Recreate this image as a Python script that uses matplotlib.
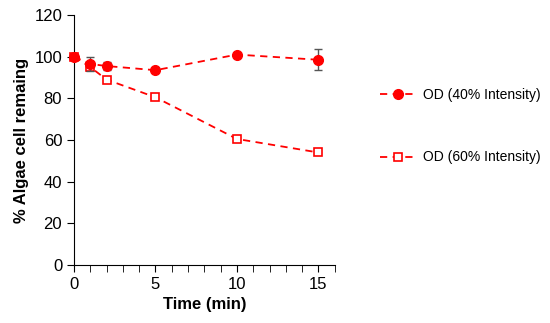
import matplotlib
matplotlib.use("Agg")
import matplotlib.pyplot as plt
from matplotlib.ticker import MultipleLocator

plt.rcParams['font.family'] = ['Liberation Sans', 'DejaVu Sans']

time = [0, 1, 2, 5, 10, 15]
od40 = [100, 96.5, 95.5, 93.5, 101, 98.5]
od40_err = [0, 3.5, 2, 0.5, 0.5, 5]
od60 = [100, 95, 89, 80.5, 60.5, 54]
od60_err = [0, 2, 1, 1, 1.5, 1]
labels = ["OD (40% Intensity)", "OD (60% Intensity)"]

fig = plt.figure(figsize=(5.5, 3.23), dpi=100)
ax = fig.add_axes([0.1345, 0.1796, 0.474, 0.774])

red = '#ff0000'
ax.errorbar(time, od60, yerr=od60_err, color=red, ls=(0, (4, 3)), lw=1.3,
            marker='s', ms=6, mfc='white', mec=red, mew=1.2,
            ecolor='#555555', elinewidth=1, capsize=3, label=labels[1],
            zorder=2, clip_on=False)
ax.errorbar(time, od40, yerr=od40_err, color=red, ls=(0, (4, 3)), lw=1.3,
            marker='o', ms=7, mfc=red, mec=red,
            ecolor='#555555', elinewidth=1, capsize=3, label=labels[0],
            zorder=3, clip_on=False)

ax.set_xlim(0, 16)
ax.set_ylim(0, 120)
ax.xaxis.set_major_locator(MultipleLocator(5))
ax.xaxis.set_minor_locator(MultipleLocator(1))
ax.yaxis.set_major_locator(MultipleLocator(20))
for s in ['top', 'right']:
    ax.spines[s].set_visible(False)
ax.tick_params(axis='both', which='major', direction='out', length=5, labelsize=12)
ax.tick_params(axis='x', which='minor', direction='out', length=5)
ax.set_xlabel("Time (min)", fontsize=12, fontweight='bold')
ax.set_ylabel("% Algae cell remaing", fontsize=12, fontweight='bold')

h, l = ax.get_legend_handles_labels()
h = [x[0] for x in h]
leg = fig.legend([h[1], h[0]], [l[1], l[0]], loc='upper left',
                 bbox_to_anchor=(0.668, 0.767), frameon=False, fontsize=10,
                 labelspacing=3.5, handlelength=2.6, handletextpad=0.5)
fig.savefig("out.png", dpi=100)
